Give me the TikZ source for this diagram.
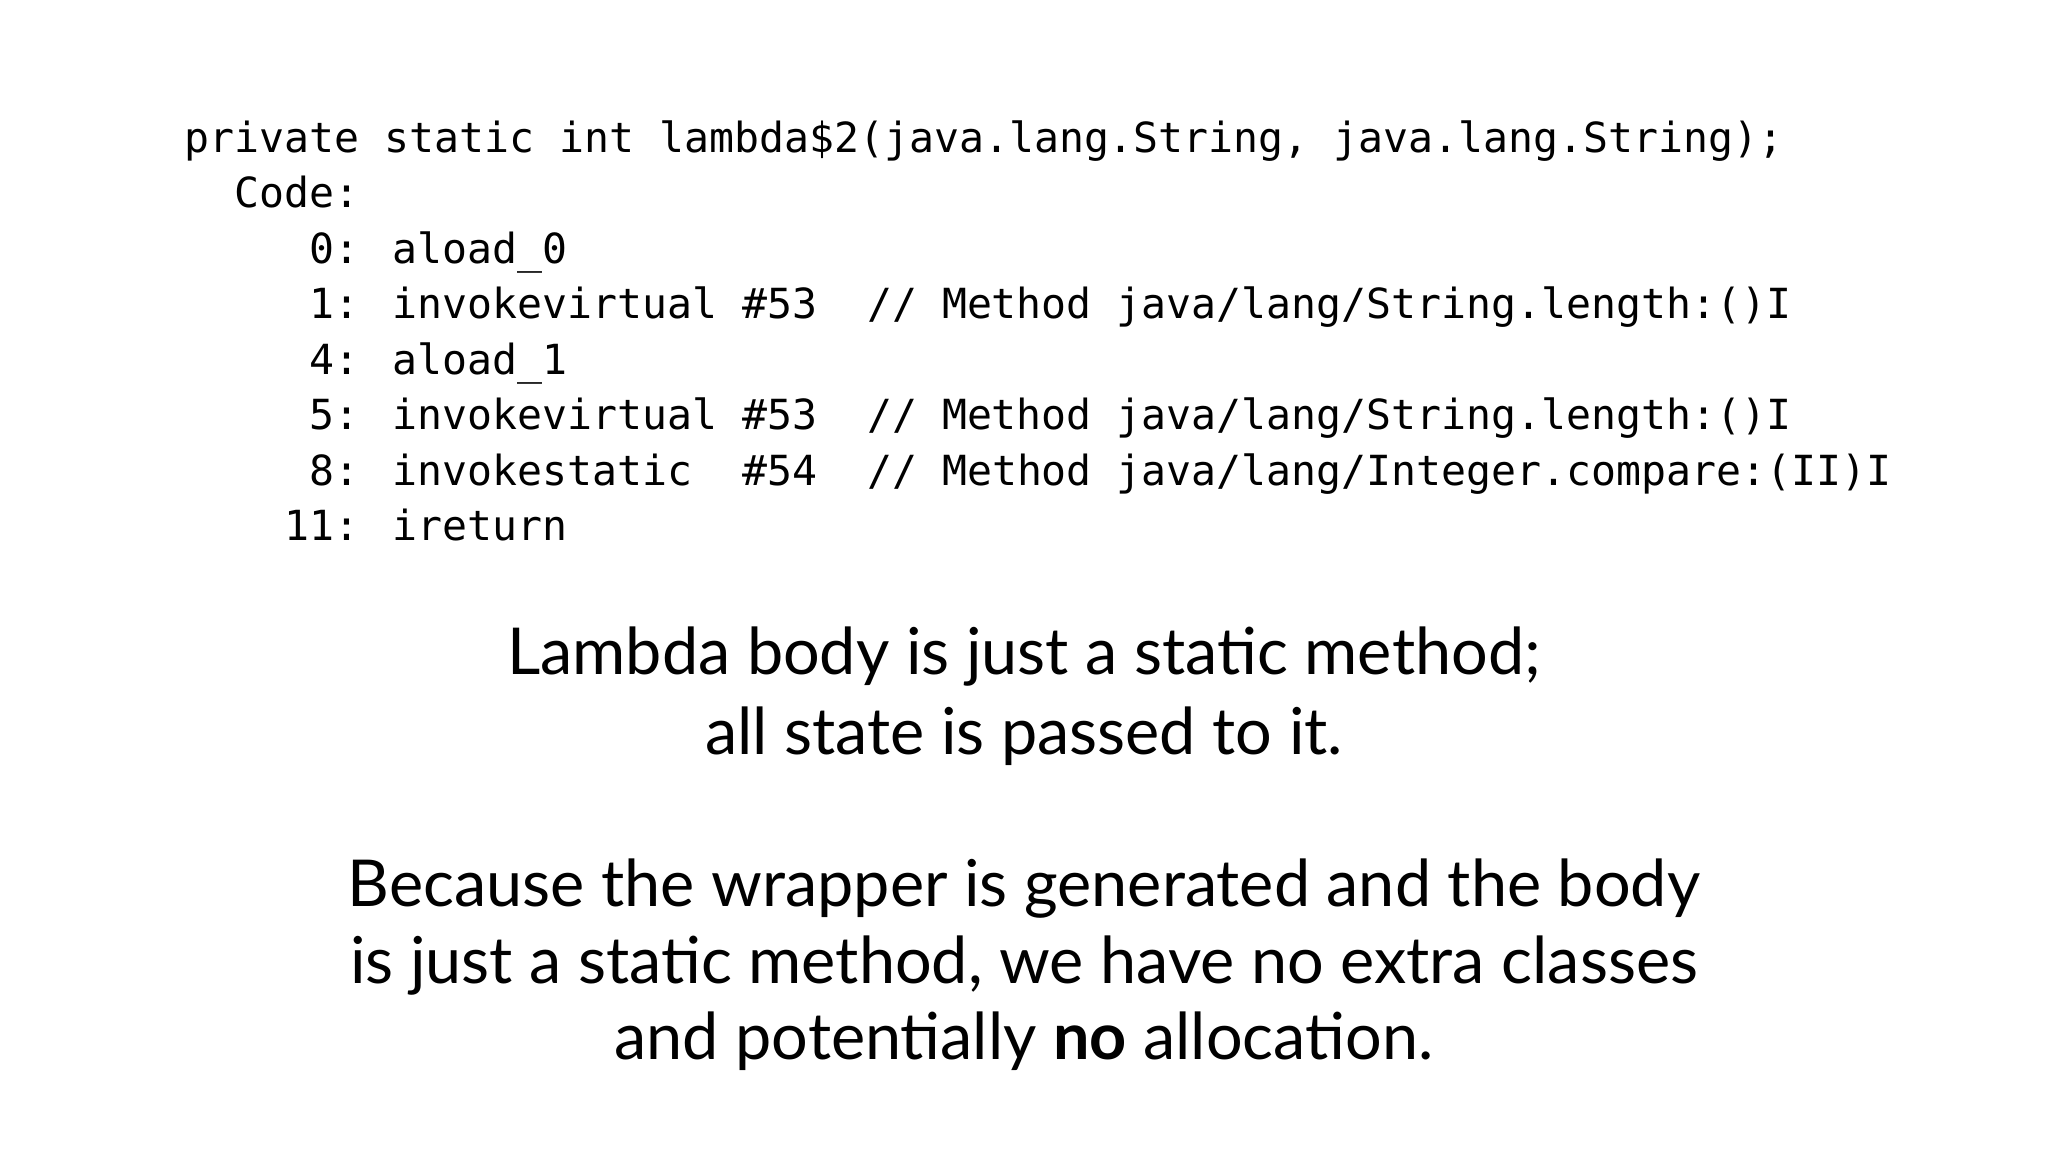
\documentclass[tikz,border=0pt]{standalone}
\usepackage{fontspec}
\setmainfont{Lato}
\newfontfamily\codefont{DejaVu Sans Mono}
\begin{document}
\begin{tikzpicture}[x=0.01cm,y=-0.01cm,
  code/.style={anchor=base west,inner sep=0pt,font=\codefont\fontsize{11.8pt}{15pt}\selectfont},
  prose/.style={anchor=base,inner sep=0pt,font=\fontsize{18.4pt}{22pt}\selectfont}]
\useasboundingbox[fill=white] (0,0) rectangle (2048,1152);
\def\cw{24.9}
\node[code] (l1) at (184,153) {private static int lambda\$2(java.lang.String, java.lang.String);};
\node[code] (l2) at (184+2*\cw,208) {Code:};
\node[code] (l3) at (184+5*\cw,264) {0: aload\_0};
\node[code] (l4) at (184+5*\cw,319) {1: invokevirtual \#53\ \ // Method java/lang/String.length:()I};
\node[code] (l5) at (184+5*\cw,375) {4: aload\_1};
\node[code] (l6) at (184+5*\cw,430) {5: invokevirtual \#53\ \ // Method java/lang/String.length:()I};
\node[code] (l7) at (184+5*\cw,486) {8: invokestatic\ \ \#54\ \ // Method java/lang/Integer.compare:(II)I};
\node[code] (l8) at (184+4*\cw,541) {11: ireturn};
\node[prose] (p1) at (1024,675) {Lambda body is just a static method;};
\node[prose] (p2) at (1024,754) {all state is passed to it.};
\node[prose] (p3) at (1024,906) {Because the wrapper is generated and the body};
\node[prose] (p4) at (1024,983) {is just a static method, we have no extra classes};
\node[prose] (p5) at (1024,1059) {and potentially \textbf{no} allocation.};
\end{tikzpicture}
\end{document}
